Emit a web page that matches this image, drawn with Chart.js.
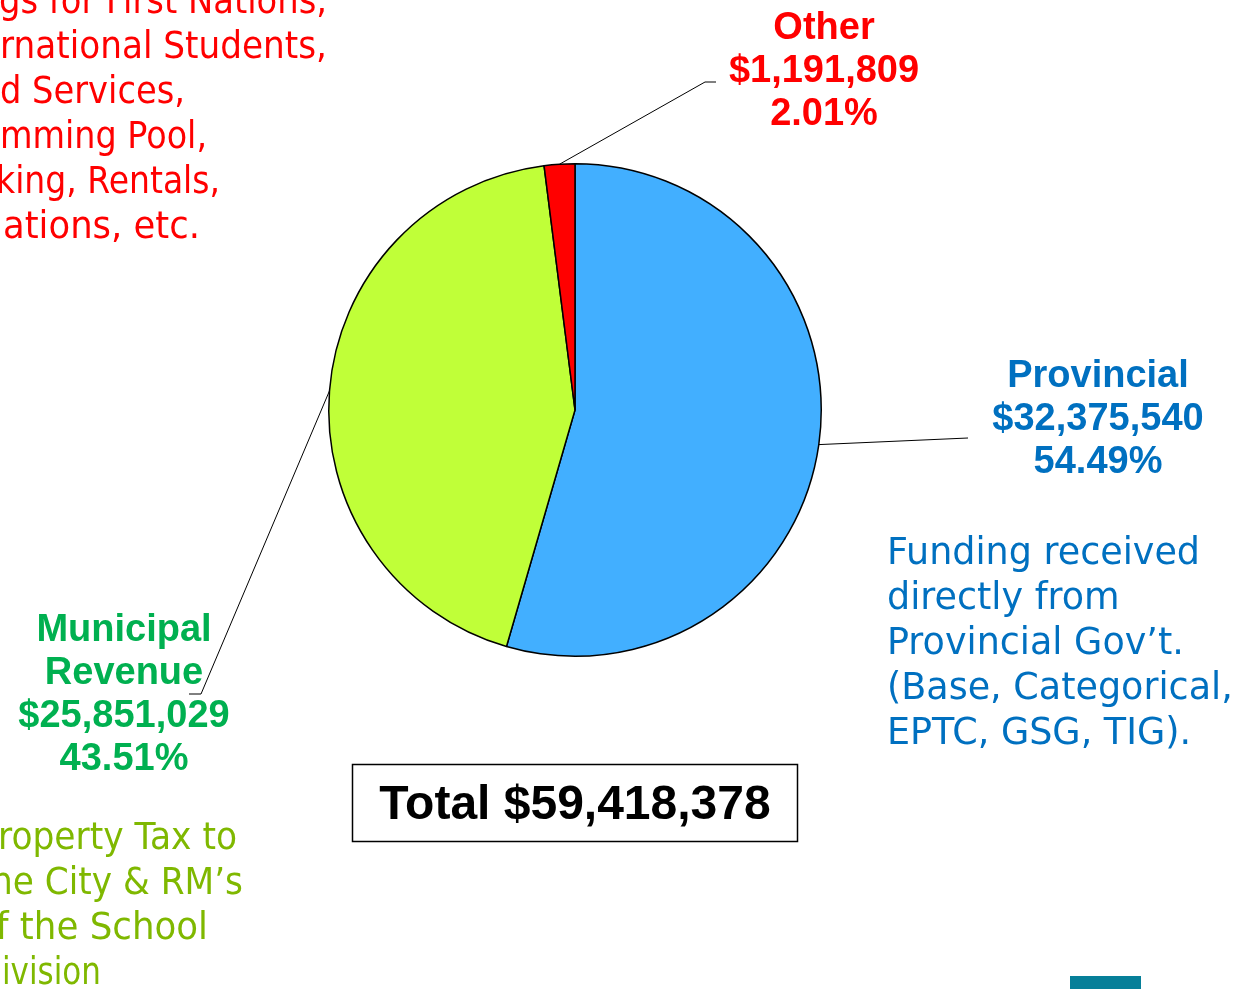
<!DOCTYPE html>
<html>
<head>
<meta charset="utf-8">
<script src="https://cdn.jsdelivr.net/npm/chart.js@4.4.1/dist/chart.umd.min.js"></script>
<style>
  html, body { margin: 0; padding: 0; background: #fff; overflow: hidden; }
  canvas { display: block; }
</style>
</head>
<body>
<canvas id="revenueChart" width="1237" height="989"></canvas>
<script>
// data
var categories = ["Provincial", "Municipal Revenue", "Other"];
var amounts = [32375540, 25851029, 1191809];
var percentLabels = ["54.49%", "43.51%", "2.01%"];
var totalLabel = "Total $59,418,378";
var sliceColors = ["#42AFFF", "#C0FF38", "#FF0000"];

var provincialNote = ["Funding received", "directly from", "Provincial Gov\u2019t.", "(Base, Categorical,", "EPTC, GSG, TIG)."];
var otherNote = ["gs for First Nations,", "rnational Students,", "d Services,", "mming Pool,", "king, Rentals,", "ations, etc."];
var municipalNote = ["roperty Tax to", "he City & RM\u2019s", "f the School", "ivision"];

var money = function(v) {
  return "$" + v.toLocaleString("en-US");
};

var boldFont = "bold 38px 'Liberation Sans', Arial, sans-serif";
var noteFamily = "'DejaVu Sans', sans-serif";

var labelPlugin = {
  id: "pieLabels",
  afterDraw: function(chart) {
    var ctx = chart.ctx;
    var arcs = chart.getDatasetMeta(0).data;

    // leader lines from the middle of each slice edge
    var leaderEnds = [
      [[968, 438]],
      [[201, 694], [189, 694]],
      [[705, 82], [716, 82]]
    ];
    ctx.save();
    ctx.strokeStyle = "#000";
    ctx.lineWidth = 1;
    arcs.forEach(function(arc, i) {
      var mid = (arc.startAngle + arc.endAngle) / 2;
      var x0 = arc.x + Math.cos(mid) * arc.outerRadius;
      var y0 = arc.y + Math.sin(mid) * arc.outerRadius;
      ctx.beginPath();
      ctx.moveTo(x0, y0);
      leaderEnds[i].forEach(function(p) { ctx.lineTo(p[0], p[1]); });
      ctx.stroke();
    });

    // slice labels
    ctx.font = boldFont;
    ctx.textAlign = "center";
    ctx.textBaseline = "middle";
    var drawLines = function(lines, x, y, step, color) {
      ctx.fillStyle = color;
      lines.forEach(function(t, k) { ctx.fillText(t, x, y + k * step); });
    };
    drawLines([categories[0], money(amounts[0]), percentLabels[0]], 1098, 377, 43, "#0070C0");
    drawLines(["Municipal", "Revenue", money(amounts[1]), percentLabels[1]], 124, 631, 43, "#00B050");
    drawLines([categories[2], money(amounts[2]), percentLabels[2]], 824, 29, 43, "#FF0000");

    // notes
    ctx.font = "32px " + noteFamily;
    var size = 32 * 313 / ctx.measureText(provincialNote[0]).width;
    ctx.font = size.toFixed(1) + "px " + noteFamily;
    ctx.textAlign = "left";
    drawLines(provincialNote, 887, 555, 44.8, "#0070C0");
    // cropped blocks at the left edge: [start, end] of each visible line
    var otherSpan = [[-1, 327], [0, 327], [0, 185], [0, 207], [-4, 220], [3, 200]];
    ctx.fillStyle = "#FF0000";
    otherNote.forEach(function(t, k) {
      var s = otherSpan[k];
      ctx.fillText(t, s[0], 4 + k * 45, s[1] - s[0]);
    });
    var muniSpan = [[-2, 237], [-9, 243], [-4, 208], [2, 101]];
    ctx.fillStyle = "#7FB800";
    municipalNote.forEach(function(t, k) {
      var s = muniSpan[k];
      ctx.fillText(t, s[0], 840 + k * 44.7, s[1] - s[0]);
    });

    // total box
    ctx.lineWidth = 1.5;
    ctx.strokeStyle = "#000";
    ctx.strokeRect(352.5, 764.5, 445, 77);
    ctx.font = "bold 48px 'Liberation Sans', Arial, sans-serif";
    ctx.textAlign = "center";
    ctx.fillStyle = "#000";
    ctx.fillText(totalLabel, 575, 806);

    // slide accent
    ctx.fillStyle = "#067F99";
    ctx.fillRect(1070, 976, 71, 13);
    ctx.restore();
  }
};

var configRevenue = {
  type: "pie",
  data: {
    labels: categories,
    datasets: [
      {
        data: amounts,
        backgroundColor: sliceColors,
        borderColor: "#000000",
        borderWidth: 1.5,
      },
    ],
  },
  options: {
    responsive: false,
    animation: false,
    layout: {
      padding: { left: 328, right: 415, top: 163, bottom: 332 },
    },
    plugins: {
      legend: { display: false },
      tooltip: { enabled: false },
    },
  },
  plugins: [labelPlugin],
};

var revenueChart = new Chart(document.getElementById("revenueChart"), configRevenue);
</script>
</body>
</html>
